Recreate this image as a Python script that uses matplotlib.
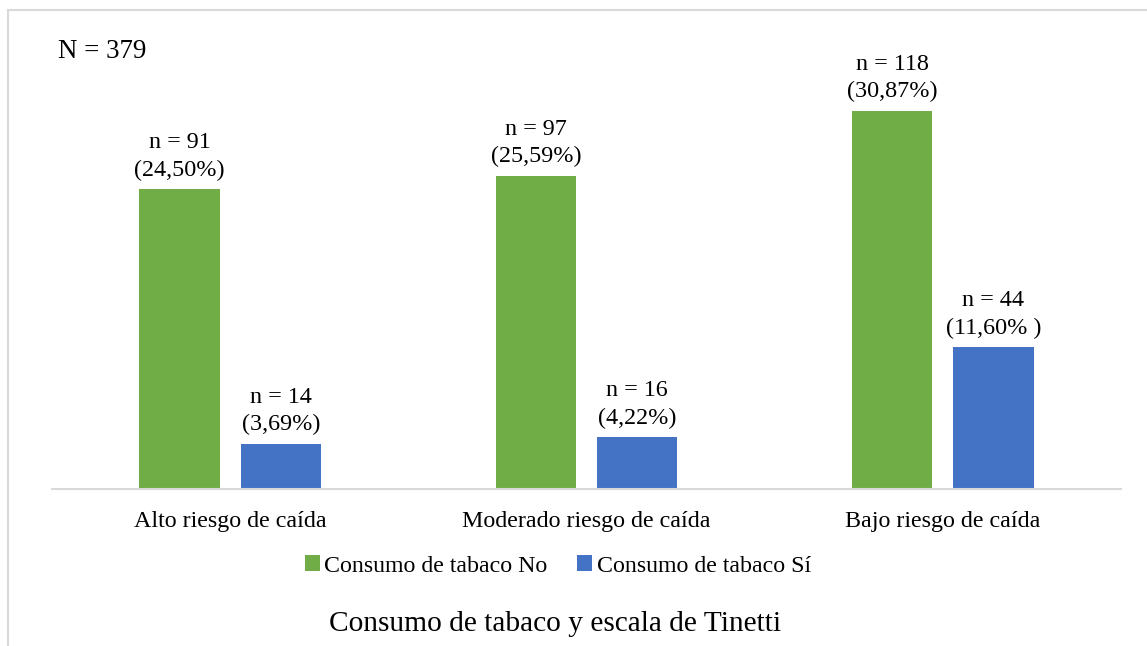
import numpy as np
import matplotlib.pyplot as plt
from matplotlib.patches import Rectangle

categorias = ["Alto riesgo de caída", "Moderado riesgo de caída", "Bajo riesgo de caída"]
n_no = [91, 97, 118]
n_si = [14, 16, 44]
pct_no = [24.50, 25.59, 30.87]
pct_si = [3.69, 4.22, 11.60]
pct_txt_no = ["(24,50%)", "(25,59%)", "(30,87%)"]
pct_txt_si = ["(3,69%)", "(4,22%)", "(11,60% )"]

plt.rcParams['font.family'] = ['Liberation Serif', 'DejaVu Serif']

W, H = 1147, 646
fig = plt.figure(figsize=(W / 100, H / 100), dpi=100)

# chart border (light gray, cut off at right and bottom)
fig.patches.append(Rectangle((8 / W, -0.1), 1.2, (H - 10) / H + 0.1, transform=fig.transFigure,
                             fill=False, edgecolor='#D9D9D9', linewidth=1.5))

ax = fig.add_axes([52 / W, (H - 489) / H, (1121 - 52) / W, (489 - 30) / H])
x = np.arange(len(categorias))
ancho = 0.225
b1 = ax.bar(x - 0.142, pct_no, ancho, color='#70AD47')
b2 = ax.bar(x + 0.142, pct_si, ancho, color='#4472C4')

for barras, ns, txts in ((b1, n_no, pct_txt_no), (b2, n_si, pct_txt_si)):
    for b, n, t in zip(barras, ns, txts):
        ax.annotate("n = %d\n%s" % (n, t), (b.get_x() + b.get_width() / 2, b.get_height()),
                    xytext=(0, 6), textcoords='offset points', ha='center', va='bottom',
                    fontsize=17.4, linespacing=1.4)

ax.set_xlim(-0.5, 2.5)
ax.set_ylim(0, (489 - 30) / 12.25)
ax.set_xticks(x)
ax.set_xticklabels(categorias, fontsize=17.3)
ax.tick_params(axis='x', length=0, pad=16)
ax.set_yticks([])
for s in ['top', 'right', 'left']:
    ax.spines[s].set_visible(False)
ax.spines['bottom'].set_color('#D9D9D9')
ax.spines['bottom'].set_linewidth(1.5)

fig.text(58 / W, 1 - 52 / H, "N = 379", fontsize=19.4, va='center', ha='left')

fig.legend([b1, b2], ["Consumo de tabaco No", "Consumo de tabaco Sí"], loc='center',
           bbox_to_anchor=(558 / W, 1 - 566 / H), ncol=2, frameon=False, fontsize=17.2,
           handlelength=0.6, handleheight=0.6, handletextpad=0.2, columnspacing=1.25)

fig.text(555 / W, 1 - 624 / H, "Consumo de tabaco y escala de Tinetti", fontsize=21.2,
         ha='center', va='center')

plt.savefig("out.png", dpi=100)
